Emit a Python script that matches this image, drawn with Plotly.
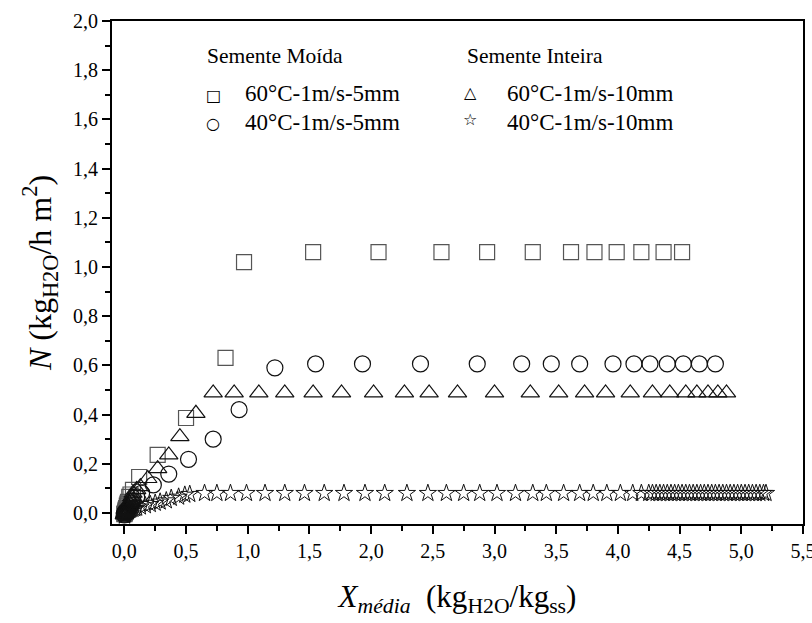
import plotly.graph_objects as go

# ---- data ----
sq_x = [0.00, 0.003, 0.005, 0.008, 0.01, 0.012, 0.015, 0.02, 0.025, 0.03,
        0.04, 0.05, 0.07, 0.12, 0.27, 0.50, 0.82, 0.97, 1.53, 2.06, 2.57,
        2.94, 3.31, 3.62, 3.81, 3.99, 4.19, 4.37, 4.52]
sq_y = [-0.005, -0.002, 0.0, 0.005, 0.01, 0.015, 0.02, 0.03, 0.038, 0.045,
        0.065, 0.075, 0.094, 0.146, 0.236, 0.386, 0.63, 1.02, 1.06, 1.06,
        1.06, 1.06, 1.06, 1.06, 1.06, 1.06, 1.06, 1.06, 1.06]

ci_x = [0.00, 0.003, 0.005, 0.008, 0.01, 0.015, 0.02, 0.03, 0.04, 0.05,
        0.06, 0.07, 0.10, 0.14, 0.235, 0.36, 0.52, 0.72, 0.93, 1.22, 1.55,
        1.93, 2.40, 2.86, 3.22, 3.46, 3.69, 3.96, 4.13, 4.26, 4.40, 4.53,
        4.66, 4.79]
ci_y = [-0.008, -0.005, 0.0, 0.003, 0.005, 0.008, 0.01, 0.015, 0.02, 0.025,
        0.04, 0.05, 0.065, 0.08, 0.114, 0.158, 0.218, 0.30, 0.42, 0.59, 0.606,
        0.606, 0.606, 0.606, 0.606, 0.606, 0.606, 0.606, 0.606, 0.606, 0.606,
        0.606, 0.606, 0.606]

tr_x = [0.00, 0.003, 0.005, 0.008, 0.01, 0.015, 0.02, 0.03, 0.04, 0.05,
        0.06, 0.07, 0.10, 0.13, 0.19, 0.27, 0.36, 0.45, 0.58, 0.72, 0.89,
        1.09, 1.30, 1.53, 1.76, 2.02, 2.27, 2.47, 2.70, 3.00, 3.29, 3.52,
        3.73, 3.90, 4.10, 4.28, 4.42, 4.55, 4.64, 4.73, 4.81, 4.88]
tr_y = [-0.008, -0.004, 0.0, 0.005, 0.01, 0.015, 0.02, 0.03, 0.04, 0.05,
        0.065, 0.08, 0.095, 0.107, 0.14, 0.18, 0.236, 0.31, 0.405, 0.488,
        0.488, 0.488, 0.488, 0.488, 0.488, 0.488, 0.488, 0.488, 0.488, 0.488,
        0.488, 0.488, 0.488, 0.488, 0.488, 0.488, 0.488, 0.488, 0.488, 0.488,
        0.488, 0.488]

st_x = [0.00, 0.003, 0.005, 0.008, 0.01, 0.015, 0.02, 0.03, 0.04, 0.05,
        0.06, 0.07, 0.085, 0.10, 0.13, 0.17, 0.21, 0.25, 0.29, 0.34, 0.38,
        0.44, 0.49, 0.53, 0.65, 0.75, 0.86, 0.99, 1.14, 1.30, 1.46, 1.62,
        1.78, 1.95, 2.11, 2.29, 2.46, 2.61, 2.75, 2.88, 3.02, 3.17, 3.31,
        3.42, 3.56, 3.69, 3.80, 3.91, 4.02, 4.12, 4.19, 4.25, 4.28, 4.31,
        4.34, 4.37, 4.40, 4.43, 4.46, 4.49, 4.52, 4.55, 4.58, 4.61, 4.64,
        4.67, 4.70, 4.73, 4.76, 4.79, 4.82, 4.85, 4.88, 4.91, 4.94, 4.97,
        5.00, 5.03, 5.06, 5.09, 5.12, 5.15, 5.18, 5.20]
st_y = [-0.012, -0.01, -0.006, -0.003, 0.0, 0.002, 0.005, 0.008, 0.01, 0.012,
        0.015, 0.016, 0.018, 0.02, 0.025, 0.03, 0.035, 0.04, 0.045, 0.05,
        0.06, 0.065, 0.073, 0.076, 0.08, 0.08, 0.08, 0.08, 0.08, 0.08, 0.08,
        0.08, 0.08, 0.08, 0.08, 0.08, 0.08, 0.08, 0.08, 0.08, 0.08, 0.08,
        0.08, 0.08, 0.08, 0.08, 0.08, 0.08, 0.08, 0.08, 0.08, 0.08, 0.08,
        0.08, 0.08, 0.08, 0.08, 0.08, 0.08, 0.08, 0.08, 0.08, 0.08, 0.08,
        0.08, 0.08, 0.08, 0.08, 0.08, 0.08, 0.08, 0.08, 0.08, 0.08, 0.08,
        0.08, 0.08, 0.08, 0.08, 0.08, 0.08, 0.08, 0.08, 0.08]

series_names = ["60°C-1m/s-5mm", "40°C-1m/s-5mm", "60°C-1m/s-10mm", "40°C-1m/s-10mm"]
group_titles = ["Semente Moída", "Semente Inteira"]
legend_glyphs = ["□", "○", "△", "☆"]

FONT = "Liberation Serif"

fig = go.Figure()
fig.add_trace(go.Scatter(x=sq_x, y=sq_y, mode="markers", name=series_names[0],
                         marker=dict(symbol="square-open", size=15, color="#555555",
                                     line=dict(width=1.2))))
fig.add_trace(go.Scatter(x=ci_x, y=ci_y, mode="markers", name=series_names[1],
                         marker=dict(symbol="circle-open", size=16, color="#111111",
                                     line=dict(width=1.2))))
fig.add_trace(go.Scatter(x=tr_x, y=tr_y, mode="markers", name=series_names[2],
                         marker=dict(symbol="triangle-up-open", size=16, color="#111111",
                                     line=dict(width=1.2))))
fig.add_trace(go.Scatter(x=st_x, y=st_y, mode="markers", name=series_names[3],
                         marker=dict(symbol="star-open", size=13, color="#111111",
                                     line=dict(width=1))))

W, H = 812, 623
ml, mr, mt, mb = 112, 9, 21, 99
pw, ph = W - ml - mr, H - mt - mb


def px(x):
    return (x - ml) / pw


def py(y):
    return (H - mb - y) / ph


ann = []
head_font = dict(family=FONT, size=21.5, color="black")
item_font = dict(family=FONT, size=23, color="black")
glyph_font = dict(family="DejaVu Sans", size=16, color="black")
# legend block 1
ann.append(dict(text=group_titles[0], x=px(205), y=py(56), xanchor="left", yanchor="middle",
                font=head_font))
ann.append(dict(text=legend_glyphs[0], x=px(213), y=py(95), xanchor="center", yanchor="middle",
                font=glyph_font))
ann.append(dict(text=series_names[0], x=px(243), y=py(93), xanchor="left", yanchor="middle",
                font=item_font))
ann.append(dict(text=legend_glyphs[1], x=px(213), y=py(123), xanchor="center", yanchor="middle",
                font=glyph_font))
ann.append(dict(text=series_names[1], x=px(243), y=py(122), xanchor="left", yanchor="middle",
                font=item_font))
# legend block 2
ann.append(dict(text=group_titles[1], x=px(465), y=py(56), xanchor="left", yanchor="middle",
                font=head_font))
ann.append(dict(text=legend_glyphs[2], x=px(470), y=py(92), xanchor="center", yanchor="middle",
                font=glyph_font))
ann.append(dict(text=series_names[2], x=px(505), y=py(93), xanchor="left", yanchor="middle",
                font=item_font))
ann.append(dict(text=legend_glyphs[3], x=px(470), y=py(120), xanchor="center", yanchor="middle",
                font=glyph_font))
ann.append(dict(text=series_names[3], x=px(505), y=py(122), xanchor="left", yanchor="middle",
                font=item_font))
for a in ann:
    a.update(xref="paper", yref="paper", showarrow=False)

axis_common = dict(
    showline=True, linewidth=2, linecolor="black", mirror=True,
    ticks="outside", ticklen=8, tickwidth=2, tickcolor="black",
    showgrid=False, zeroline=False, automargin=False,
    tickfont=dict(family=FONT, size=20, color="black"),
    tickformat=".1f", ticklabeloverflow="allow",
)

fig.update_layout(
    width=W, height=H,
    margin=dict(l=ml, r=mr, t=mt, b=mb, autoexpand=False),
    paper_bgcolor="white", plot_bgcolor="white",
    separators=",.",
    showlegend=False,
    font=dict(family=FONT, color="black"),
    annotations=ann,
    xaxis=dict(range=[-0.1, 5.5], tick0=0, dtick=0.5,
               minor=dict(dtick=0.25, ticks="outside", ticklen=5, tickwidth=2, tickcolor="black"),
               title=dict(text="<i>X</i><sub><i>média</i></sub>  (kg<sub>H2O</sub>/kg<sub>ss</sub>)",
                          font=dict(family=FONT, size=31, color="black"), standoff=24),
               **axis_common),
    yaxis=dict(range=[-0.045, 2.0], tick0=0, dtick=0.2,
               minor=dict(dtick=0.1, ticks="outside", ticklen=5, tickwidth=2, tickcolor="black"),
               title=dict(text="<i>N</i> (kg<sub>H2O</sub>/h m<sup>2</sup>)",
                          font=dict(family=FONT, size=32, color="black"), standoff=12),
               **axis_common),
)

fig.write_html("out.html")
